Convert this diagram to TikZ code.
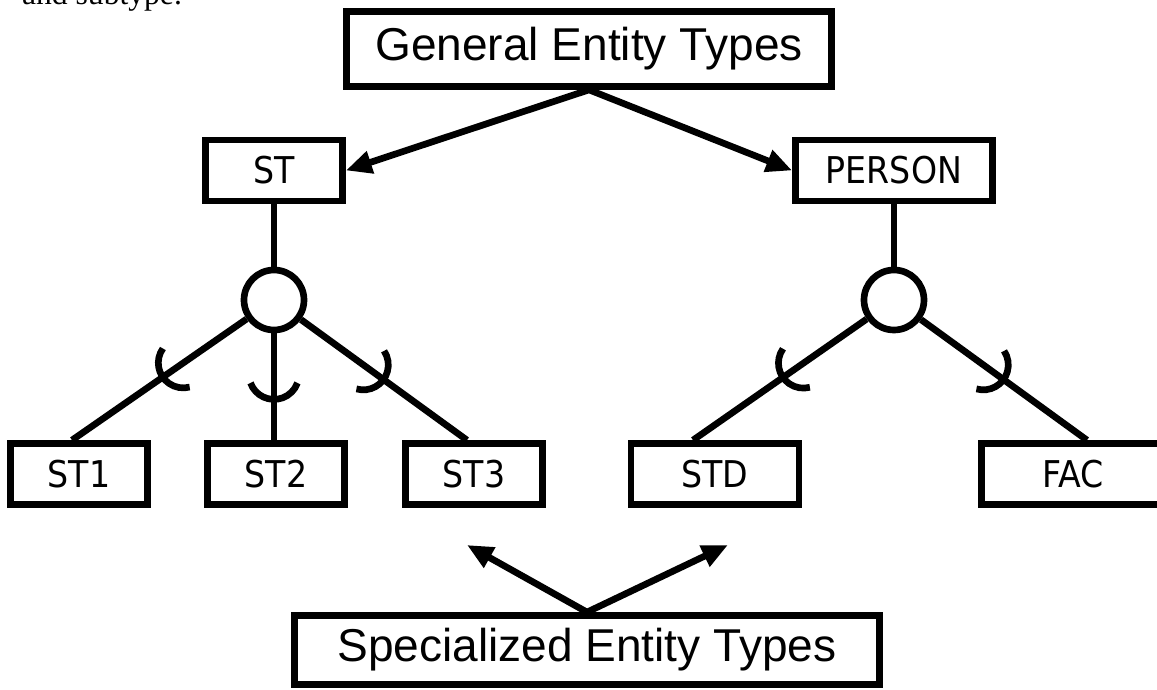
\documentclass[tikz,border=0pt]{standalone}
\usepackage{fontspec}
\setmainfont{Liberation Serif}
\newfontfamily\headfont{Liberation Sans}
\newfontfamily\typefont{DejaVu Sans Condensed}
\usetikzlibrary{arrows.meta,decorations.markings}
\begin{document}
\begin{tikzpicture}[line join=miter,line width=1.9pt,>={Triangle[length=.26cm,width=.22cm]},
	bigbox/.style={draw,inner sep=0pt,font=\headfont\fontsize{13.1}{15}\selectfont},
	typebox/.style={draw,minimum width=#1,minimum height=.61cm,inner sep=0pt,font=\typefont\fontsize{10.5}{12}\selectfont},
	gencircle/.style={draw,circle,minimum size=.6cm,inner sep=0pt},
	subline/.style={postaction={decorate},decoration={markings,mark=at position #1 with {\draw (-.164,-.235) arc[start angle=-70,end angle=70,radius=.25];}}}]
	\useasboundingbox (0,0) rectangle (11.57,6.90);
	\node[anchor=base west,font=\fontsize{9}{10}\selectfont] (note) at (.07,6.85) {and subtype.};
	\node[bigbox,minimum width=4.85cm,minimum height=.75cm] (gen) at (5.89,6.41) {General Entity Types};
	\node[typebox=1.37cm] (st) at (2.74,5.195) {ST};
	\node[typebox=1.97cm] (person) at (8.94,5.195) {PERSON};
	\node[gencircle] (c1) at (2.74,3.90) {};
	\node[gencircle] (c2) at (8.94,3.90) {};
	\node[typebox=1.37cm] (st1) at (.79,2.16) {ST1};
	\node[typebox=1.37cm] (st2) at (2.76,2.16) {ST2};
	\node[typebox=1.37cm] (st3) at (4.74,2.16) {ST3};
	\node[typebox=1.68cm] (std) at (7.15,2.16) {STD};
	\node[typebox=1.83cm] (fac) at (10.73,2.16) {FAC};
	\node[bigbox,minimum width=5.85cm,minimum height=.69cm] (spec) at (5.87,.40) {Specialized Entity Types};
	\coordinate (t1) at (4.67,1.45);
	\coordinate (t2) at (7.28,1.45);
	\draw[<->] (st.east) -- (gen.south) -- (person.west);
	\draw[<->] (t1) -- (spec.north) -- (t2);
	\draw (st) -- (c1) (person) -- (c2);
	\draw[subline=1.02cm] (c1) -- ([xshift=-.07cm]st1.north);
	\draw[subline=.66cm] (c1) -- (c1 |- st2.north);
	\draw[subline=1.02cm] (c1) -- ([xshift=-.07cm]st3.north);
	\draw[subline=1.02cm] (c2) -- ([xshift=-.22cm]std.north);
	\draw[subline=1.02cm] (c2) -- ([xshift=.14cm]fac.north);
\end{tikzpicture}
\end{document}
